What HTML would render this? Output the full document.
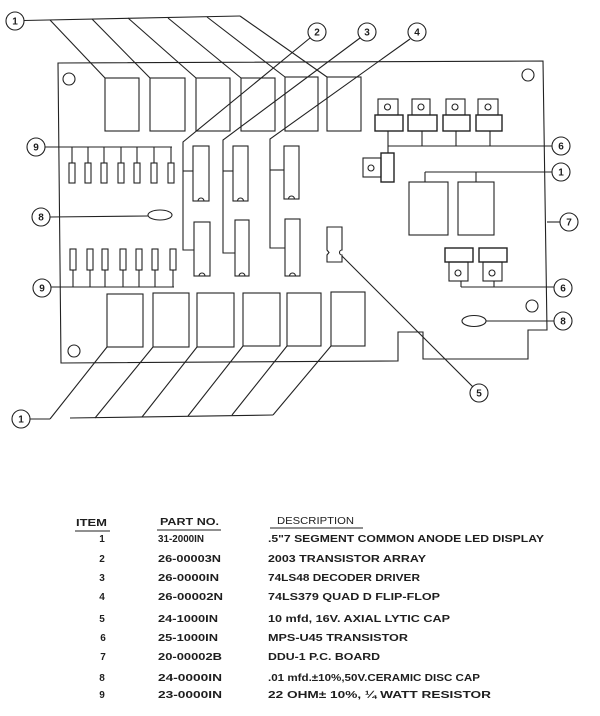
<!DOCTYPE html>
<html>
<head>
<meta charset="utf-8">
<style>
  html,body{margin:0;padding:0;background:#fff;}
  svg{display:block;}
  text{font-family:"Liberation Sans",Arial,sans-serif;fill:#1e1e1e;}
</style>
</head>
<body>
<svg width="600" height="716" viewBox="0 0 600 716" xmlns="http://www.w3.org/2000/svg">
<g fill="none" stroke="#222" stroke-width="1.1">
  <!-- board outline -->
  <path d="M58,63 L543,61 L547,330 L528,330 L528,359 L423,359 L423,332 L398,332 L398,361 L61,363 Z"/>
  <!-- mounting holes -->
  <circle cx="69" cy="79" r="6"/>
  <circle cx="528" cy="75" r="6"/>
  <circle cx="74" cy="351" r="6"/>
  <circle cx="532" cy="306" r="6"/>

  <!-- top displays -->
  <rect x="105" y="78" width="34" height="53"/>
  <rect x="150" y="78" width="35" height="53"/>
  <rect x="196" y="78" width="34" height="53"/>
  <rect x="241" y="78" width="34" height="53"/>
  <rect x="285" y="77" width="33" height="54"/>
  <rect x="327" y="77" width="34" height="54"/>

  <!-- top label 1 leaders -->
  <line x1="24" y1="20.5" x2="240" y2="16"/>
  <line x1="50" y1="20" x2="105" y2="78"/>
  <line x1="92" y1="19" x2="150" y2="78"/>
  <line x1="128" y1="18" x2="196" y2="78"/>
  <line x1="168" y1="18" x2="241" y2="78"/>
  <line x1="207" y1="17" x2="285" y2="77"/>
  <line x1="240" y1="16" x2="327" y2="77"/>

  <!-- label 9 top resistors -->
  <line x1="45" y1="147" x2="172" y2="147"/>
  <line x1="72" y1="147" x2="72" y2="163"/>
  <line x1="88" y1="147" x2="88" y2="163"/>
  <line x1="104" y1="147" x2="104" y2="163"/>
  <line x1="121" y1="147" x2="121" y2="163"/>
  <line x1="137" y1="147" x2="137" y2="163"/>
  <line x1="154" y1="147" x2="154" y2="163"/>
  <line x1="171" y1="147" x2="171" y2="163"/>
  <rect x="69" y="163" width="6" height="20"/>
  <rect x="85" y="163" width="6" height="20"/>
  <rect x="101" y="163" width="6" height="20"/>
  <rect x="118" y="163" width="6" height="20"/>
  <rect x="134" y="163" width="6" height="20"/>
  <rect x="151" y="163" width="6" height="20"/>
  <rect x="168" y="163" width="6" height="20"/>

  <!-- label 9 bottom resistors -->
  <rect x="70" y="249" width="6" height="21"/>
  <rect x="87" y="249" width="6" height="21"/>
  <rect x="102" y="249" width="6" height="21"/>
  <rect x="120" y="249" width="6" height="21"/>
  <rect x="136" y="249" width="6" height="21"/>
  <rect x="152" y="249" width="6" height="21"/>
  <rect x="170" y="249" width="6" height="21"/>
  <line x1="73" y1="270" x2="73" y2="287"/>
  <line x1="90" y1="270" x2="90" y2="287"/>
  <line x1="105" y1="270" x2="105" y2="287"/>
  <line x1="123" y1="270" x2="123" y2="287"/>
  <line x1="139" y1="270" x2="139" y2="287"/>
  <line x1="155" y1="270" x2="155" y2="287"/>
  <line x1="173" y1="270" x2="173" y2="287"/>
  <line x1="51" y1="287" x2="174" y2="287"/>

  <!-- cap 8 left -->
  <ellipse cx="160" cy="215" rx="12" ry="5"/>
  <line x1="50" y1="217" x2="148" y2="216"/>

  <!-- IC column A (label 2) -->
  <rect x="193" y="146" width="16" height="55"/>
  <path d="M198,201 A3,3 0 0 1 204,201"/>
  <rect x="194" y="222" width="16" height="54"/>
  <path d="M199,276 A3,3 0 0 1 205,276"/>
  <polyline points="310,38 183,142 183,250 194,250"/>
  <line x1="183" y1="171" x2="193" y2="171"/>

  <!-- IC column B (label 3) -->
  <rect x="233" y="146" width="15" height="55"/>
  <path d="M237.5,201 A3,3 0 0 1 243.5,201"/>
  <rect x="235" y="220" width="14" height="56"/>
  <path d="M239,276 A3,3 0 0 1 245,276"/>
  <polyline points="360,38 223,140 223,253 235,253"/>
  <line x1="223" y1="171" x2="233" y2="171"/>

  <!-- IC column C (label 4) -->
  <rect x="284" y="146" width="15" height="53"/>
  <path d="M288.5,199 A3,3 0 0 1 294.5,199"/>
  <rect x="285" y="219" width="15" height="57"/>
  <path d="M289.5,276 A3,3 0 0 1 295.5,276"/>
  <polyline points="410,39 270,139 270,248 285,248"/>
  <line x1="270" y1="170" x2="284" y2="170"/>

  <!-- cap 5 -->
  <path d="M327,227 L342,227 L342,250 A2.5,2.5 0 0 0 342,255 L342,262 L327,262 L327,255 L329,252.5 L327,250 Z"/>
  <line x1="342" y1="256" x2="473" y2="387"/>

  <!-- top transistors (label 6) -->
  <rect x="378" y="99" width="20" height="16"/>
  <circle cx="387.5" cy="107" r="3"/>
  <rect x="375" y="115" width="28" height="16" stroke-width="1.4"/>
  <rect x="412" y="99" width="18" height="16"/>
  <circle cx="421" cy="107" r="3"/>
  <rect x="408" y="115" width="29" height="16" stroke-width="1.4"/>
  <rect x="446" y="99" width="19" height="16"/>
  <circle cx="455" cy="107" r="3"/>
  <rect x="443" y="115" width="27" height="16" stroke-width="1.4"/>
  <rect x="478" y="99" width="20" height="16"/>
  <circle cx="488" cy="107" r="3"/>
  <rect x="476" y="115" width="26" height="16" stroke-width="1.4"/>
  <line x1="388" y1="131" x2="388" y2="153"/>
  <line x1="422" y1="131" x2="422" y2="146"/>
  <line x1="456" y1="131" x2="456" y2="146"/>
  <line x1="490" y1="131" x2="490" y2="146"/>
  <line x1="388" y1="146" x2="552" y2="146"/>
  <!-- sideways transistor -->
  <rect x="381" y="153" width="13" height="29" stroke-width="1.4"/>
  <rect x="363" y="158" width="18" height="19"/>
  <circle cx="371" cy="168" r="3"/>

  <!-- right displays (label 1) -->
  <rect x="409" y="182" width="39" height="53"/>
  <rect x="458" y="182" width="36" height="53"/>
  <line x1="425" y1="172" x2="552" y2="172"/>
  <line x1="425" y1="172" x2="425" y2="182"/>
  <line x1="476" y1="172" x2="476" y2="182"/>

  <!-- label 7 -->
  <line x1="547" y1="222" x2="560" y2="222"/>

  <!-- lower transistors (label 6) -->
  <rect x="445" y="248" width="28" height="14" stroke-width="1.4"/>
  <rect x="449" y="262" width="19" height="19"/>
  <circle cx="458" cy="273" r="3"/>
  <rect x="479" y="248" width="28" height="14" stroke-width="1.4"/>
  <rect x="483" y="262" width="19" height="19"/>
  <circle cx="492" cy="273" r="3"/>
  <line x1="461" y1="281" x2="461" y2="287"/>
  <line x1="494" y1="281" x2="494" y2="287"/>
  <line x1="461" y1="287" x2="554" y2="287"/>

  <!-- cap 8 right -->
  <ellipse cx="474" cy="321" rx="12" ry="5.5"/>
  <line x1="486" y1="321" x2="554" y2="321"/>

  <!-- bottom displays -->
  <rect x="107" y="294" width="36" height="53"/>
  <rect x="153" y="293" width="36" height="54"/>
  <rect x="197" y="293" width="37" height="54"/>
  <rect x="243" y="293" width="37" height="53"/>
  <rect x="287" y="293" width="34" height="53"/>
  <rect x="331" y="292" width="34" height="54"/>

  <!-- bottom label 1 leaders -->
  <line x1="30" y1="419" x2="50" y2="419"/>
  <line x1="50" y1="419" x2="107" y2="347"/>
  <line x1="70" y1="418" x2="273" y2="415"/>
  <line x1="95" y1="418" x2="153" y2="347"/>
  <line x1="142" y1="417" x2="197" y2="347"/>
  <line x1="188" y1="416" x2="243" y2="346"/>
  <line x1="232" y1="415" x2="287" y2="346"/>
  <line x1="273" y1="415" x2="331" y2="346"/>

  <!-- label circles -->
  <circle cx="15" cy="21" r="9"/>
  <circle cx="317" cy="32" r="9"/>
  <circle cx="367" cy="32" r="9"/>
  <circle cx="417" cy="32" r="9"/>
  <circle cx="36" cy="147" r="9"/>
  <circle cx="41" cy="217" r="9"/>
  <circle cx="42" cy="288" r="9"/>
  <circle cx="21" cy="419" r="9"/>
  <circle cx="561" cy="146" r="9"/>
  <circle cx="561" cy="172" r="9"/>
  <circle cx="569" cy="222" r="9"/>
  <circle cx="563" cy="288" r="9"/>
  <circle cx="563" cy="321" r="9"/>
  <circle cx="479" cy="393" r="9"/>

  <!-- table underlines -->
  <line x1="75" y1="531" x2="110" y2="531"/>
  <line x1="157" y1="530" x2="221" y2="530"/>
  <line x1="270" y1="528" x2="363" y2="528"/>
</g>

<!-- circle label digits -->
<g font-size="10" font-weight="bold" text-anchor="middle">
  <text x="15" y="24.5">1</text>
  <text x="317" y="35.5">2</text>
  <text x="367" y="35.5">3</text>
  <text x="417" y="35.5">4</text>
  <text x="36" y="150.5">9</text>
  <text x="41" y="220.5">8</text>
  <text x="42" y="291.5">9</text>
  <text x="21" y="422.5">1</text>
  <text x="561" y="149.5">6</text>
  <text x="561" y="175.5">1</text>
  <text x="569" y="225.5">7</text>
  <text x="563" y="291.5">6</text>
  <text x="563" y="324.5">8</text>
  <text x="479" y="396.5">5</text>
</g>

<!-- parts table -->
<g font-size="10" font-weight="bold" lengthAdjust="spacingAndGlyphs">
  <text x="76" y="526" textLength="31" lengthAdjust="spacingAndGlyphs">ITEM</text>
  <text x="160" y="525" textLength="59" lengthAdjust="spacingAndGlyphs">PART NO.</text>
  <text x="277" y="524" textLength="77" lengthAdjust="spacingAndGlyphs" font-weight="normal">DESCRIPTION</text>

  <g text-anchor="middle">
    <text x="102" y="542">1</text>
    <text x="102" y="562">2</text>
    <text x="102" y="581">3</text>
    <text x="102" y="600">4</text>
    <text x="102" y="622">5</text>
    <text x="103" y="641">6</text>
    <text x="103" y="660">7</text>
    <text x="102" y="681">8</text>
    <text x="102" y="698">9</text>
  </g>

  <text x="158" y="542" textLength="46" lengthAdjust="spacingAndGlyphs">31-2000IN</text>
  <text x="158" y="562" textLength="63" lengthAdjust="spacingAndGlyphs">26-00003N</text>
  <text x="158" y="581" textLength="61" lengthAdjust="spacingAndGlyphs">26-0000IN</text>
  <text x="158" y="600" textLength="65" lengthAdjust="spacingAndGlyphs">26-00002N</text>
  <text x="158" y="622" textLength="60" lengthAdjust="spacingAndGlyphs">24-1000IN</text>
  <text x="158" y="641" textLength="60" lengthAdjust="spacingAndGlyphs">25-1000IN</text>
  <text x="158" y="660" textLength="64" lengthAdjust="spacingAndGlyphs">20-00002B</text>
  <text x="158" y="681" textLength="64" lengthAdjust="spacingAndGlyphs">24-0000IN</text>
  <text x="158" y="698" textLength="64" lengthAdjust="spacingAndGlyphs">23-0000IN</text>

  <text x="268" y="542" textLength="276" lengthAdjust="spacingAndGlyphs">.5"7 SEGMENT COMMON ANODE LED DISPLAY</text>
  <text x="268" y="562" textLength="158" lengthAdjust="spacingAndGlyphs">2003 TRANSISTOR ARRAY</text>
  <text x="268" y="581" textLength="152" lengthAdjust="spacingAndGlyphs">74LS48 DECODER DRIVER</text>
  <text x="268" y="600" textLength="172" lengthAdjust="spacingAndGlyphs">74LS379 QUAD D FLIP-FLOP</text>
  <text x="268" y="622" textLength="182" lengthAdjust="spacingAndGlyphs">10 mfd, 16V. AXIAL LYTIC CAP</text>
  <text x="268" y="641" textLength="140" lengthAdjust="spacingAndGlyphs">MPS-U45 TRANSISTOR</text>
  <text x="268" y="660" textLength="112" lengthAdjust="spacingAndGlyphs">DDU-1 P.C. BOARD</text>
  <text x="268" y="681" textLength="212" lengthAdjust="spacingAndGlyphs">.01 mfd.±10%,50V.CERAMIC DISC CAP</text>
  <text x="268" y="698" textLength="223" lengthAdjust="spacingAndGlyphs">22 OHM± 10%, ¼ WATT RESISTOR</text>
</g>
</svg>
</body>
</html>
